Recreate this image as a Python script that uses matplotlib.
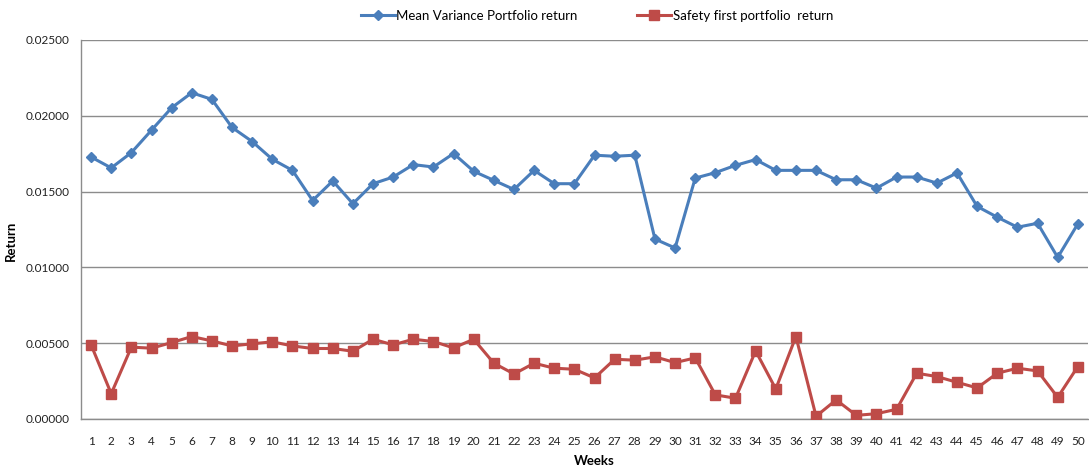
import numpy as np
from matplotlib import pyplot as plt
from matplotlib.ticker import FormatStrFormatter

plt.rcParams['font.family'] = ['Lato', 'DejaVu Sans']

weeks = list(range(1, 51))

# values
meanVarianceReturn = [
    0.01728, 0.01656, 0.01757, 0.01905, 0.02053, 0.02152, 0.02108, 0.01923, 0.01830, 0.01713,
    0.01640, 0.01441, 0.01570, 0.01420, 0.01552, 0.01596, 0.01678, 0.01662, 0.01751, 0.01634,
    0.01574, 0.01514, 0.01640, 0.01552, 0.01552, 0.01740, 0.01733, 0.01740, 0.01187, 0.01128,
    0.01589, 0.01625, 0.01673, 0.01711, 0.01640, 0.01640, 0.01640, 0.01578, 0.01578, 0.01523,
    0.01596, 0.01596, 0.01556, 0.01623, 0.01402, 0.01331, 0.01265, 0.01291, 0.01066, 0.01287,
]
safetyFirstReturn = [
    0.00489, 0.00167, 0.00474, 0.00467, 0.00504, 0.00544, 0.00515, 0.00482, 0.00496, 0.00509,
    0.00482, 0.00465, 0.00465, 0.00447, 0.00526, 0.00489, 0.00526, 0.00511, 0.00469, 0.00526,
    0.00368, 0.00297, 0.00368, 0.00335, 0.00328, 0.00271, 0.00394, 0.00388, 0.00410, 0.00372,
    0.00403, 0.00159, 0.00137, 0.00449, 0.00198, 0.00544, 0.00018, 0.00126, 0.00024, 0.00035,
    0.00064, 0.00302, 0.00280, 0.00242, 0.00205, 0.00302, 0.00335, 0.00317, 0.00143, 0.00346,
]
yTicks = [0.0, 0.005, 0.010, 0.015, 0.020, 0.025]

fig = plt.figure(figsize=(10.89, 4.72), dpi=100)
ax = fig.add_axes([0.0744, 0.1123, 0.9246, 0.803])

ax.plot(weeks, meanVarianceReturn, color='#4a7ebb', linewidth=2.2, marker='D',
        markersize=5.5, label='Mean Variance Portfolio return', zorder=3)
ax.plot(weeks, safetyFirstReturn, color='#be4b48', linewidth=2.2, marker='s',
        markersize=6.5, label='Safety first portfolio  return', zorder=3)

ax.set_xlim(0.5, 50.5)
ax.set_ylim(0, 0.025)
ax.set_xticks(weeks)
ax.set_yticks(yTicks)
ax.yaxis.set_major_formatter(FormatStrFormatter('%.5f'))
ax.tick_params(axis='both', length=0, labelsize=8.5, colors='#222222')
ax.tick_params(axis='x', pad=12)
ax.tick_params(axis='y', pad=8)
ax.yaxis.grid(True, color='#8c8c8c', linewidth=1)
ax.set_axisbelow(True)
for side in ['top', 'right']:
    ax.spines[side].set_visible(False)
for side in ['left', 'bottom']:
    ax.spines[side].set_color('#8c8c8c')
    ax.spines[side].set_linewidth(1)

ax.set_xlabel('Weeks', fontsize=9.5, fontweight='bold')
ax.xaxis.set_label_coords(0.51, -0.095)
ax.set_ylabel('Return', fontsize=9.5, fontweight='bold')
ax.yaxis.set_label_coords(-0.064, 0.47)

fig.legend(loc='upper center', bbox_to_anchor=(0.548, 1.005), ncol=2, frameon=False,
           fontsize=9.5, columnspacing=4.5, handlelength=2.6, handletextpad=0.1)

fig.savefig('out.png', dpi=100)
